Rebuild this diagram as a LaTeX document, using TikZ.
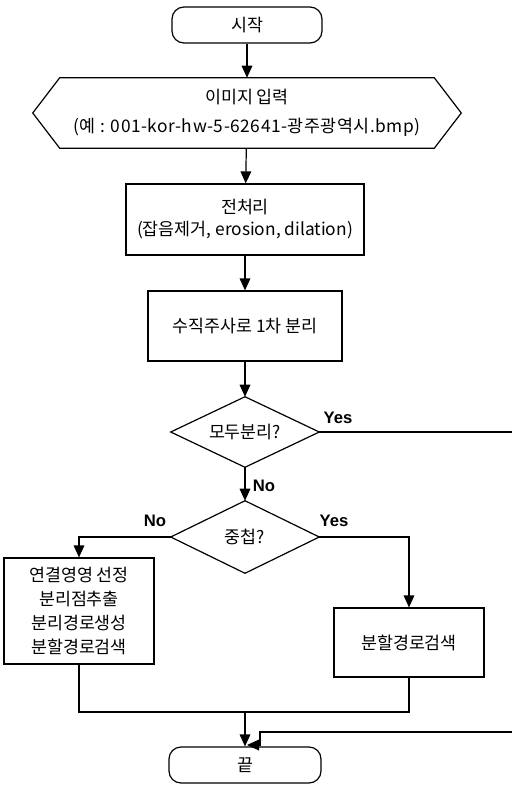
\documentclass[tikz,border=0pt]{standalone}
\usepackage{fontspec}
\setmainfont{Noto Sans CJK KR}
\newfontfamily\ynfont{Liberation Sans}
\usetikzlibrary{arrows.meta}
\begin{document}
\begin{tikzpicture}[x=0.75pt,y=-0.75pt,
  every node/.style={font=\fontsize{13}{14}\selectfont, align=center, inner sep=0pt},
  line/.style={line width=0.9pt},
  arr/.style={line width=0.9pt, -{Triangle[length=9pt,width=8pt]}},
  term/.style={draw, line width=0.9pt, rounded corners=9pt},
  proc/.style={draw, line width=0.9pt},
  hold/.style={draw=none},
  lab/.style={font=\ynfont\bfseries\fontsize{12.5}{14}\selectfont}]
\useasboundingbox (0,0) rectangle (511,785);

% nodes
\node[term, minimum width=112.5pt, minimum height=27pt] (start) at (247,25) {시작};
\node[hold, minimum width=321pt, minimum height=52.5pt] (inp) at (247,113)
  {이미지 입력\\[7.5pt]{\addfontfeatures{LetterSpace=3}(예 : 001-kor-hw-5-62641-광주광역시.bmp)}};
\draw[line] ([xshift=20.25pt]inp.north west) -- ([xshift=-20.25pt]inp.north east)
  -- (inp.east) -- ([xshift=-20.25pt]inp.south east) -- ([xshift=20.25pt]inp.south west)
  -- (inp.west) -- cycle;
\node[proc, minimum width=178.5pt, minimum height=53.25pt] (pre) at (245,219.5)
  {전처리\\[2.5pt](잡음제거, erosion, dilation)};
\node[proc, minimum width=145.5pt, minimum height=52.5pt] (v1) at (245,326) {수직주사로 1차 분리};
\node[hold, minimum width=111pt, minimum height=52.5pt] (d1) at (245,432) {모두분리?};
\draw[line] (d1.north) -- (d1.east) -- (d1.south) -- (d1.west) -- cycle;
\node[hold, minimum width=111pt, minimum height=54pt] (d2) at (245,537) {중첩?};
\draw[line] (d2.north) -- (d2.east) -- (d2.south) -- (d2.west) -- cycle;
\node[proc, minimum width=112.5pt, minimum height=79.5pt] (bl) at (79,611)
  {연결영영 선정\\[4pt]분리점추출\\[4pt]분리경로생성\\[4pt]분할경로검색};
\node[proc, minimum width=112.5pt, minimum height=51.75pt] (br) at (409,642.5) {분할경로검색};
\node[term, minimum width=114pt, minimum height=27pt] (end) at (245,765) {끝};

% labels
\node[lab] (y1) at (338,418) {Yes};
\node[lab] (n1) at (264,486) {No};
\node[lab] (n2) at (155,521) {No};
\node[lab] (y2) at (334,521) {Yes};

% coordinates
\coordinate (ra) at (514,432);
\coordinate (rb) at (514,732);
\coordinate (rc) at (260,732);
\coordinate (rd) at (260,745);
\coordinate (re) at (247,745);
\coordinate (lb) at (79,537);
\coordinate (rbx) at (409,537);
\coordinate (ml) at (79,712);
\coordinate (mr) at (409,712);
\coordinate (mm) at (245,712);

% connectors
\draw[arr] (start) -- (inp);
\draw[arr] (inp) -- (pre);
\draw[arr] (pre) -- (v1);
\draw[arr] (v1) -- (d1.north);
\draw[arr] (d1.south) -- (d2.north);
\draw[arr] (d2.west) -- (lb) -- (bl.north);
\draw[arr] (d2.east) -- (rbx) -- (br.north);
\draw[line] (bl.south) -- (ml) -- (mr) -- (br.south);
\draw[arr] (mm) -- (end.north);
\draw[arr] (d1.east) -- (ra) -- (rb) -- (rc) -- (rd) -- (re);
\end{tikzpicture}
\end{document}
